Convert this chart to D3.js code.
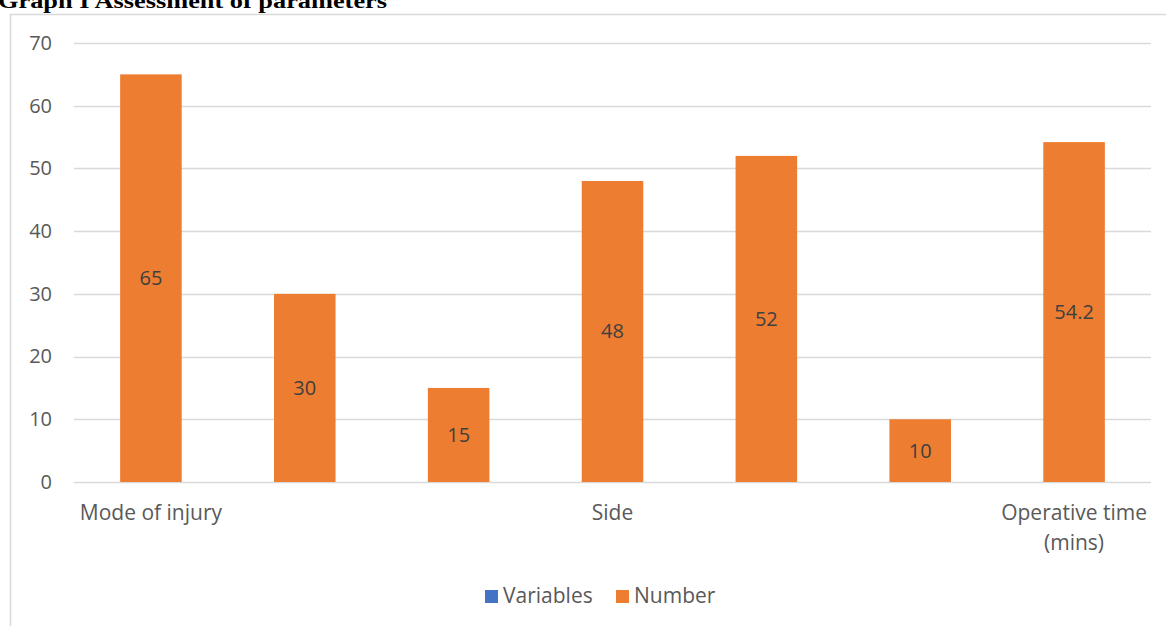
<!DOCTYPE html>
<html>
<head>
<meta charset="utf-8">
<script src="https://cdn.jsdelivr.net/npm/d3@7"></script>
<style>
  body { margin: 0; background: #fff; }
  svg { display: block; }
</style>
</head>
<body>
<div id="chart"></div>
<script>
// chart data
var categories = ["Mode of injury", "", "", "Side", "", "", "Operative time (mins)"];
var numbers = [65, 30, 15, 48, 52, 10, 54.2];
var yTicks = [0, 10, 20, 30, 40, 50, 60, 70];
var legendNames = ["Variables", "Number"];
var legendColors = ["#4472C4", "#ED7D31"];

var width = 1166, height = 626;
var svg = d3.select("#chart").append("svg")
    .attr("width", width)
    .attr("height", height);

// title, cut at the top like the original
svg.append("text")
    .attr("x", -2)
    .attr("y", 8)
    .attr("font-family", "Liberation Serif")
    .attr("font-weight", "bold")
    .attr("font-size", 20)
    .attr("textLength", 389)
    .attr("lengthAdjust", "spacingAndGlyphs")
    .text("Graph I Assessment of parameters");

// chart border
svg.append("path")
    .attr("d", "M10.5," + height + "V14.5H" + width)
    .attr("fill", "none")
    .attr("stroke", "#d9d9d9")
    .attr("stroke-width", 1.5);

var x = d3.scaleBand()
    .domain(d3.range(categories.length))
    .range([74, 1151])
    .paddingInner(0.6)
    .paddingOuter(0.3);

var y = d3.scaleLinear()
    .domain([0, 70])
    .range([482, 43]);

// gridlines
svg.append("g")
    .selectAll("line")
    .data(yTicks)
    .join("line")
    .attr("x1", 74)
    .attr("x2", 1151)
    .attr("y1", d => Math.round(y(d)) + 0.5)
    .attr("y2", d => Math.round(y(d)) + 0.5)
    .attr("stroke", "#d9d9d9")
    .attr("stroke-width", 1.5);

// y axis labels
var yAxis = svg.append("g")
    .attr("transform", "translate(60,0)")
    .call(d3.axisLeft(y).tickValues(yTicks).tickSize(0).tickPadding(8));
yAxis.select(".domain").remove();
yAxis.selectAll("text")
    .attr("font-family", "Open Sans")
    .attr("font-size", 20)
    .attr("fill", "#595959");

// bars
svg.append("g")
    .selectAll("rect")
    .data(numbers)
    .join("rect")
    .attr("x", (d, i) => x(i))
    .attr("y", d => y(d))
    .attr("width", x.bandwidth())
    .attr("height", d => y(0) - y(d))
    .attr("fill", "#ED7D31");

// value labels centered in bars
svg.append("g")
    .selectAll("text")
    .data(numbers)
    .join("text")
    .attr("x", (d, i) => x(i) + x.bandwidth() / 2)
    .attr("y", d => (y(d) + y(0)) / 2)
    .attr("dy", "0.35em")
    .attr("text-anchor", "middle")
    .attr("font-family", "Open Sans")
    .attr("font-size", 20)
    .attr("fill", "#404040")
    .text(d => d);

// category labels (wrapped where Excel wrapped)
var catG = svg.append("g");
categories.forEach(function (c, i) {
    if (!c) return;
    var lines = c === "Operative time (mins)" ? ["Operative time", "(mins)"] : [c];
    var t = catG.append("text")
        .attr("text-anchor", "middle")
        .attr("font-family", "Open Sans")
        .attr("font-size", 21)
        .attr("fill", "#595959");
    lines.forEach(function (l, k) {
        t.append("tspan")
            .attr("x", x(i) + x.bandwidth() / 2)
            .attr("y", 520 + k * 30)
            .text(l);
    });
});

// legend
var legend = svg.append("g");
var legendX = [485, 616];
legendNames.forEach(function (n, i) {
    legend.append("rect")
        .attr("x", legendX[i])
        .attr("y", 590)
        .attr("width", 13)
        .attr("height", 13)
        .attr("fill", legendColors[i]);
    legend.append("text")
        .attr("x", legendX[i] + 18)
        .attr("y", 596)
        .attr("dy", "0.35em")
        .attr("font-family", "Open Sans")
        .attr("font-size", 21)
        .attr("fill", "#595959")
        .text(n);
});
</script>
</body>
</html>
